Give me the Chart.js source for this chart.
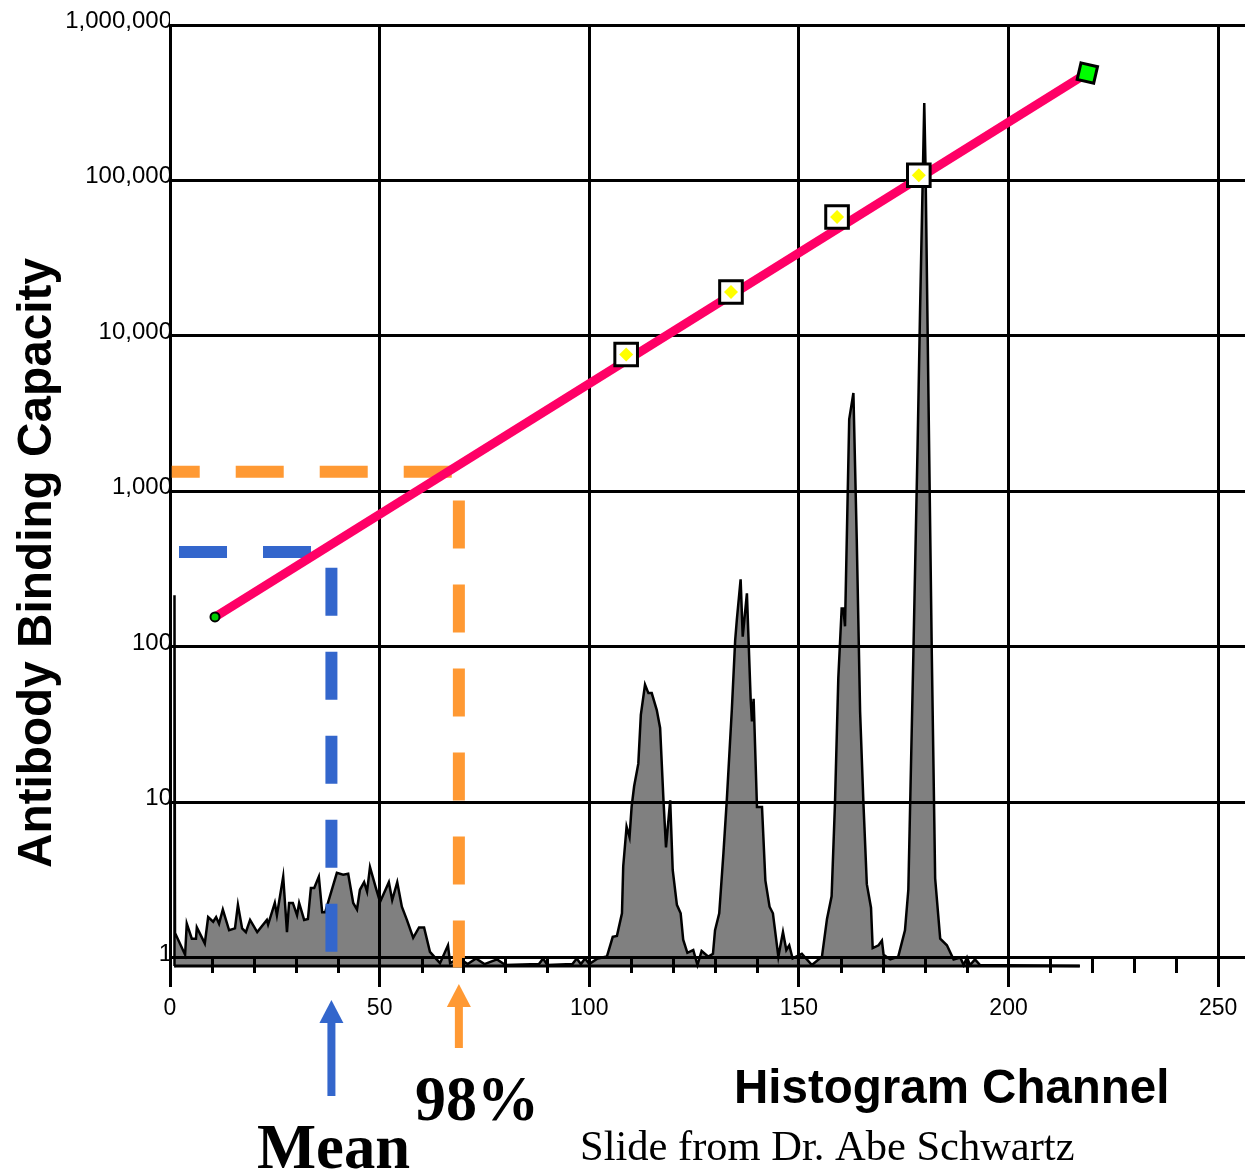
<!DOCTYPE html>
<html lang="en">
<head>
<meta charset="utf-8">
<title>Antibody Binding Capacity vs Histogram Channel</title>
<script src="https://cdn.jsdelivr.net/npm/chart.js@4.4.1/dist/chart.umd.min.js"></script>
<style>
  html, body { margin: 0; padding: 0; background: #ffffff; }
  #wrap { width: 1247px; height: 1173px; }
</style>
</head>
<body>
<div id="wrap"><canvas id="abcChart" width="1247" height="1173"></canvas></div>
<script>
// ---- data ----
const xTickValues = [0, 50, 100, 150, 200, 250];
const minorTicks = [10, 20, 30, 40, 60, 70, 80, 90, 110, 120, 130, 140, 160, 170, 180, 190, 210, 220, 230, 240];
const yTickValues = [1, 10, 100, 1000, 10000, 100000, 1000000];

// histogram outline (channel, relative count)
const histChannels = [
    1.0, 1.07, 1.2, 3.6, 4.0, 5.2, 6.2, 6.4, 8.3, 9.1,
    10.3, 11.0, 11.7, 12.6, 14.1, 15.5, 16.2, 17.2, 18.1, 19.1,
    20.8, 23.1, 23.4, 25.0, 25.5, 27.0, 27.9, 28.4, 29.3, 30.3,
    30.8, 32.0, 32.9, 33.6, 34.4, 35.5, 36.3, 37.0, 39.8, 41.3,
    42.5, 43.7, 44.6, 45.3, 46.3, 47.0, 47.7, 49.1, 50.1, 52.2,
    53.0, 54.2, 55.3, 56.5, 58.0, 59.4, 60.6, 62.0, 64.4, 66.3,
    66.8, 69, 71, 73, 75, 78, 80, 88, 89, 90,
    96, 97, 98, 99, 100, 102,
    104.2, 105.6, 106.6, 107.8, 108.1, 108.9, 109.6, 110.1, 110.7, 111.7,
    112.3, 113.3, 114.1, 114.9, 116.1, 116.9, 117.7, 118.3, 119.3, 119.9,
    120.9, 121.8, 122.4, 123.4, 124.8, 125.8, 126.8, 128.4, 129.5,
    130.0, 131.0, 132.0, 132.8, 134.0, 134.8, 135.2, 136.1, 136.6, 137.6,
    138.5, 138.8, 139.2, 140.0, 141.2, 142.0, 143.0, 143.8, 145.1, 146.2,
    147.0, 147.7, 148.5, 150.7, 153.1,
    155.5, 156.7, 157.8, 158.6, 159.4, 160.2, 160.6, 161.0, 162.0, 163.0,
    163.8, 164.6, 165.4, 166.2, 167.2, 167.6, 169.0, 169.8, 170.2, 171.8,
    173.7, 175.3, 176.1, 177.3, 178.3, 178.9, 179.6, 179.9, 180.2, 180.9,
    181.7, 182.5, 183.7, 185.3, 186.9, 188.5, 189.3, 190.1, 190.8, 192.0,
    193.2, 217
];
const histCounts = [
    0, 39.4, 3.5, 1.2, 4.5, 2.9, 2.9, 4.1, 2.4, 5.2,
    4.7, 5.2, 4.5, 6.0, 3.8, 4.0, 6.5, 4.0, 3.6, 4.9,
    3.6, 4.9, 4.4, 6.7, 5.4, 9.5, 3.6, 6.7, 6.7, 5.4,
    6.7, 4.9, 5.0, 8.3, 8.3, 9.5, 5.7, 5.7, 9.9, 9.7,
    9.8, 6.7, 6.0, 8.1, 8.9, 7.9, 10.5, 8.3, 6.8, 8.9,
    7.0, 8.9, 6.3, 4.9, 3.0, 4.1, 4.1, 1.5, 0.3, 2.2,
    0.3, 0.8, 0.2, 0.8, 0.2, 0.7, 0.1, 0.2, 0.8, 0.1,
    0.2, 0.8, 0.2, 0.8, 0.2, 0.8,
    1.0, 3.1, 3.2, 5.6, 10.6, 14.8, 13.7, 16.9, 19.1, 21.5,
    26.7, 29.9, 29.0, 29.0, 27.2, 25.3, 17.6, 12.6, 17.6, 10.2,
    6.5, 5.6, 2.8, 1.4, 1.7, 0.1, 1.6, 1.0, 1.3,
    3.8, 5.6, 12.0, 17.6, 27.2, 34.6, 36.8, 41.1, 35.0, 39.6,
    28.3, 26.0, 28.4, 16.9, 16.9, 9.1, 6.3, 5.6, 1.0, 3.6,
    1.7, 2.2, 0.8, 1.3, 0.1,
    1.0, 5.0, 7.4, 17.2, 30.6, 38.0, 38.0, 36.1, 58.1, 60.9,
    45.3, 27.0, 17.2, 8.7, 6.2, 1.9, 2.2, 2.7, 1.2, 0.7,
    1.0, 3.8, 8.1, 33.1, 55.1, 69.7, 85.0, 91.7, 85.0, 60.6,
    33.1, 9.3, 2.9, 2.2, 0.7, 0.9, 0.1, 0.9, 0.1, 0.7,
    0.1, 0
];
const baselineChannels = [1, 217];
const baselineCounts = [0, 0];

// calibration beads and fitted line
const beadChannels = [108.8, 133.8, 159.1, 178.6];
const beadABC = [7600, 19200, 58200, 108000];
const fitChannels = [10.73, 218.8];
const fitABC = [156, 491000];

// read-off guides
const meanGuideX = [2.15, 38.5, 38.5];
const meanGuideY = [408, 408, 1.08];
const pctGuideX = [0.41, 68.9, 68.9];
const pctGuideY = [1340, 1340, 0.87];

const BLUE = '#3366CC';
const ORANGE = '#FF9933';
const PINK = '#FF0066';
const SANS = '"Liberation Sans", Arial, sans-serif';
const SERIF = '"Liberation Serif", "Times New Roman", serif';

const pts = (xs, ys) => xs.map((v, i) => ({ x: v, y: ys[i] }));

/**
 * Arrow pointing up, drawn below the axis
 */
function drawArrow(ctx, x, tipY, baseY, tailY, headW, shaftW, color) {
    ctx.fillStyle = color;
    ctx.fillRect(x - shaftW / 2, baseY - 1, shaftW, tailY - baseY + 1);
    ctx.beginPath();
    ctx.moveTo(x, tipY);
    ctx.lineTo(x + headW / 2, baseY);
    ctx.lineTo(x - headW / 2, baseY);
    ctx.closePath();
    ctx.fill();
}

const overlayPlugin = {
    id: 'overlay',
    afterDatasetDraw(chart, args) {
        // grid lines are drawn over the grey histogram
        if (args.index !== 0) return;
        if (typeof chart.scales.x.drawGrid === 'function') {
            chart.scales.x.drawGrid(chart.chartArea);
            chart.scales.y.drawGrid(chart.chartArea);
        }
    },
    afterDraw(chart) {
        const ctx = chart.ctx;
        const xs = chart.scales.x;
        const ys = chart.scales.y;
        const area = chart.chartArea;
        ctx.save();

        // minor ticks every 10 channels
        ctx.strokeStyle = '#000';
        ctx.lineWidth = 3;
        const top = ys.getPixelForValue(1);
        minorTicks.forEach(v => {
            const px = Math.round(xs.getPixelForValue(v)) + 0.5;
            ctx.beginPath();
            ctx.moveTo(px, top);
            ctx.lineTo(px, area.bottom + 7);
            ctx.stroke();
        });

        // arrows marking the mean and 98% channels
        drawArrow(ctx, xs.getPixelForValue(meanGuideX[1]), area.bottom + 34, area.bottom + 57, area.bottom + 130, 24, 8, BLUE);
        drawArrow(ctx, xs.getPixelForValue(pctGuideX[1]), area.bottom + 18, area.bottom + 41, area.bottom + 82, 24, 8, ORANGE);

        ctx.fillStyle = '#000';
        ctx.textBaseline = 'alphabetic';

        // y title
        ctx.save();
        ctx.translate(51, 563);
        ctx.rotate(-Math.PI / 2);
        ctx.textAlign = 'center';
        ctx.font = 'bold 48px ' + SANS;
        ctx.fillText('Antibody Binding Capacity', 0, 0, 610);
        ctx.restore();

        ctx.textAlign = 'left';
        ctx.font = 'bold 47.5px ' + SANS;
        ctx.fillText('Histogram Channel', 734, 1103, 436);

        ctx.font = 'bold 64px ' + SERIF;
        ctx.fillText('98%', 415, 1120, 124);
        ctx.fillText('Mean', 257, 1168, 153);

        ctx.font = '42.5px ' + SERIF;
        ctx.fillText('Slide from Dr. Abe Schwartz', 580, 1160, 495);

        ctx.restore();
    }
};

const ctx = document.getElementById('abcChart').getContext('2d');
const chart = new Chart(ctx, {
    type: 'line',
    data: {
        datasets: [
            {
                label: 'Histogram',
                data: pts(histChannels, histCounts),
                yAxisID: 'yh',
                borderColor: '#000000',
                borderWidth: 2.5,
                backgroundColor: '#808080',
                fill: 'origin',
                pointRadius: 0,
                tension: 0,
                clip: 6,
                order: 10
            },
            {
                label: 'Baseline',
                data: pts(baselineChannels, baselineCounts),
                yAxisID: 'yh',
                borderColor: '#000000',
                borderWidth: 3,
                pointRadius: 0,
                clip: 6,
                order: 9
            },
            {
                label: 'Mean',
                data: pts(meanGuideX, meanGuideY),
                borderColor: BLUE,
                borderWidth: 12,
                borderDash: [48, 36],
                borderCapStyle: 'butt',
                borderJoinStyle: 'miter',
                pointRadius: 0,
                tension: 0,
                clip: 6,
                order: 5
            },
            {
                label: '98%',
                data: pts(pctGuideX, pctGuideY),
                borderColor: ORANGE,
                borderWidth: 12,
                borderDash: [48, 36],
                borderDashOffset: 20,
                borderCapStyle: 'butt',
                borderJoinStyle: 'miter',
                pointRadius: 0,
                tension: 0,
                clip: 6,
                order: 5
            },
            {
                label: 'Calibration',
                data: pts(fitChannels, fitABC),
                borderColor: PINK,
                borderWidth: 9,
                tension: 0,
                pointStyle: ['circle', 'rect'],
                pointRadius: [4.5, 12],
                pointRotation: [0, 13],
                pointBackgroundColor: ['#00CC00', '#00FF00'],
                pointBorderColor: '#000000',
                pointBorderWidth: [2, 3],
                clip: false,
                order: 3
            },
            {
                label: 'Beads',
                data: pts(beadChannels, beadABC),
                showLine: false,
                pointStyle: 'rect',
                pointRadius: 16,
                pointBackgroundColor: '#ffffff',
                pointBorderColor: '#000000',
                pointBorderWidth: 3,
                order: 2
            },
            {
                label: 'Bead centres',
                data: pts(beadChannels, beadABC),
                showLine: false,
                pointStyle: 'rectRot',
                pointRadius: 7,
                pointBackgroundColor: '#FFFF00',
                pointBorderWidth: 0,
                order: 1
            }
        ]
    },
    options: {
        responsive: false,
        animation: false,
        events: [],
        layout: {
            autoPadding: false,
            padding: { top: 25, right: 2, bottom: 0, left: 0 }
        },
        plugins: {
            legend: { display: false },
            tooltip: { enabled: false }
        },
        scales: {
            x: {
                type: 'linear',
                min: 0,
                max: 256.4,
                afterBuildTicks: (s) => { s.ticks = xTickValues.map(v => ({ value: v })); },
                afterFit: (s) => { s.height = 207; },
                grid: {
                    color: '#000000',
                    lineWidth: 3,
                    tickLength: 21,
                    tickColor: '#000000'
                },
                border: { display: false },
                ticks: {
                    color: '#000000',
                    font: { family: SANS, size: 23 },
                    padding: 8,
                    maxRotation: 0,
                    autoSkip: false
                }
            },
            y: {
                type: 'logarithmic',
                min: 0.888,
                max: 1000000,
                afterBuildTicks: (s) => { s.ticks = yTickValues.map(v => ({ value: v })); },
                afterFit: (s) => { s.width = 170; },
                grid: {
                    color: '#000000',
                    lineWidth: 3,
                    drawTicks: false
                },
                border: { display: true, color: '#000000', width: 3 },
                ticks: {
                    color: '#000000',
                    font: { family: SANS, size: 24 },
                    padding: -2,
                    labelOffset: -4,
                    callback: (v) => Number(v).toLocaleString('en-US')
                }
            },
            yh: {
                type: 'linear',
                display: false,
                min: 0,
                max: 100
            }
        }
    },
    plugins: [overlayPlugin]
});
</script>
</body>
</html>
